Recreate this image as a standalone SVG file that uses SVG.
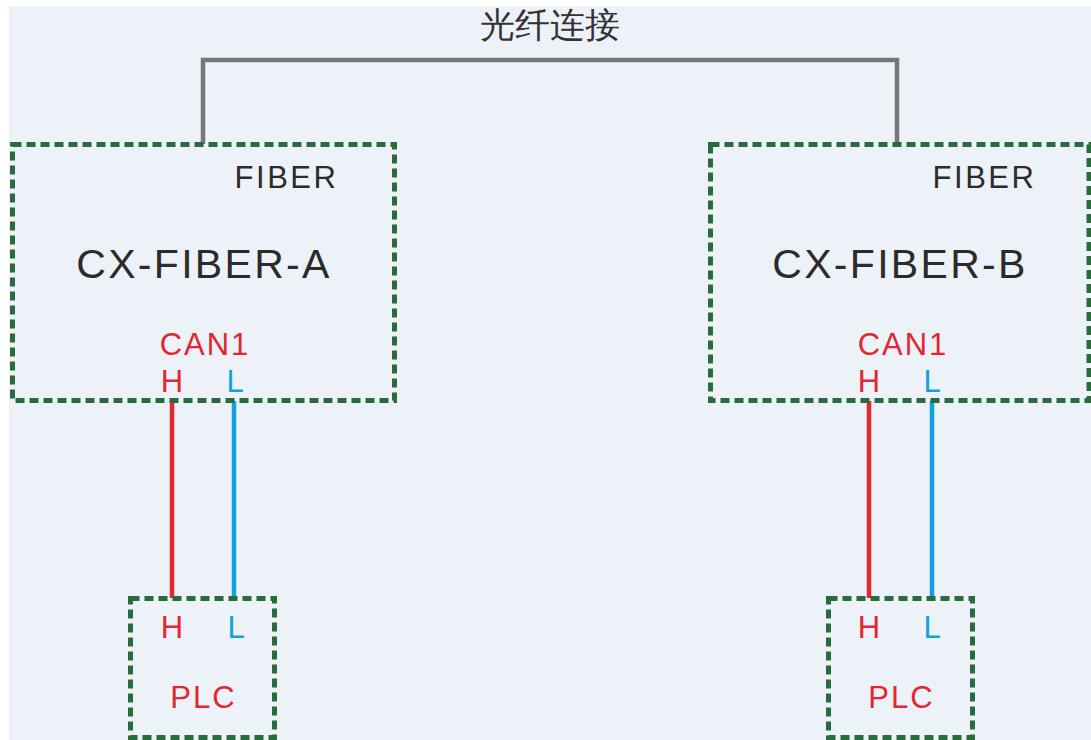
<svg xmlns="http://www.w3.org/2000/svg" width="1091" height="740" viewBox="0 0 1091 740">
<style>
.box{fill:none;stroke:#2a6b3c;stroke-width:5;stroke-dasharray:9 5}
.t{font-family:"Liberation Sans",Arial,sans-serif;text-anchor:middle}
.dark{fill:#2b2b2b}
.red{fill:#e3262f}
.blue{fill:#11a0e2}
</style>
<rect x="0" y="0" width="1091" height="740" fill="#ffffff"/>
<rect x="9" y="6" width="1082" height="734" fill="#edf2f9"/>
<text class="t" x="550" y="37" font-size="35" fill="#333333" font-family="Liberation Sans,'Noto Sans CJK SC',sans-serif">光纤连接</text>
<g id="connectors">
<polyline points="203,144 203,60 897,60 897,144" fill="none" stroke="#777777" stroke-width="4.5"/>
<line x1="172" y1="401" x2="172" y2="598" stroke="#e3262f" stroke-width="4.5"/>
<line x1="234" y1="401" x2="234" y2="598" stroke="#11a0e2" stroke-width="4.5"/>
<line x1="869" y1="401" x2="869" y2="598" stroke="#e3262f" stroke-width="4.5"/>
<line x1="932" y1="401" x2="932" y2="598" stroke="#11a0e2" stroke-width="4.5"/>
</g>
<g id="fiber-a">
<rect class="box" x="12.5" y="144.5" width="382" height="256"/>
<text class="t dark" x="286.5" y="188" font-size="31" letter-spacing="2.5">FIBER</text>
<text class="t dark" x="204" y="278" font-size="41" letter-spacing="2.3">CX-FIBER-A</text>
<text class="t red" x="205" y="355" font-size="31" letter-spacing="2">CAN1</text>
<text class="t red" x="172" y="392" font-size="31">H</text>
<text class="t blue" x="235" y="392" font-size="31">L</text>
</g>
<g id="fiber-b">
<rect class="box" x="710.5" y="144.5" width="378.5" height="256"/>
<text class="t dark" x="984.5" y="188" font-size="31" letter-spacing="2.5">FIBER</text>
<text class="t dark" x="900" y="278" font-size="41" letter-spacing="2.3">CX-FIBER-B</text>
<text class="t red" x="903" y="355" font-size="31" letter-spacing="2">CAN1</text>
<text class="t red" x="869" y="392" font-size="31">H</text>
<text class="t blue" x="932" y="392" font-size="31">L</text>
</g>
<g id="plc-a">
<rect class="box" x="130.5" y="598.5" width="144" height="139"/>
<text class="t red" x="172" y="638" font-size="31">H</text>
<text class="t blue" x="236" y="638" font-size="31">L</text>
<text class="t red" x="203.5" y="708" font-size="31" letter-spacing="2">PLC</text>
</g>
<g id="plc-b">
<rect class="box" x="828.5" y="598.5" width="144" height="139"/>
<text class="t red" x="869" y="638" font-size="31">H</text>
<text class="t blue" x="932" y="638" font-size="31">L</text>
<text class="t red" x="901.5" y="708" font-size="31" letter-spacing="2">PLC</text>
</g>
</svg>
